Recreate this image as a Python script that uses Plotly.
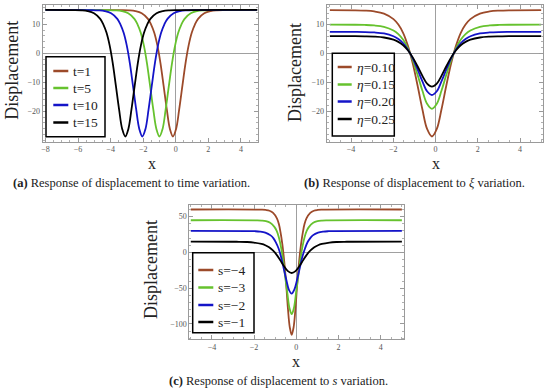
import plotly.graph_objects as go

# ---------------- data ----------------
# panel (a): displacement vs x for several times t
t_labels = ["t=1", "t=5", "t=10", "t=15"]
x_t1 = [-8, -3.25, -2.86, -2.48, -2.09, -1.71, -1.52, -1.32, -1.13, -0.94, -0.75, -0.55, -0.36, -0.17,
        0.02, 0.21, 0.41, 0.60, 0.79, 0.98, 1.18, 1.37, 1.75, 2.14, 2.52, 2.91, 5]
x_t5 = [-8, -4.08, -3.69, -3.31, -2.92, -2.54, -2.35, -2.15, -1.96, -1.77, -1.58, -1.38, -1.19, -1.00,
        -0.81, -0.62, -0.42, -0.23, -0.04, 0.15, 0.35, 0.54, 0.92, 1.31, 1.69, 2.08, 5]
x_t10 = [-8, -5.13, -4.74, -4.36, -3.97, -3.59, -3.40, -3.20, -3.01, -2.82, -2.63, -2.43, -2.24, -2.05,
         -1.86, -1.67, -1.47, -1.28, -1.09, -0.90, -0.70, -0.51, -0.13, 0.26, 0.64, 1.03, 5]
x_t15 = [-8, -6.18, -5.79, -5.41, -5.02, -4.64, -4.45, -4.25, -4.06, -3.87, -3.68, -3.48, -3.29, -3.10,
         -2.91, -2.72, -2.52, -2.33, -2.14, -1.95, -1.75, -1.56, -1.18, -0.79, -0.41, -0.02, 5]
y_t = [15, 14.94, 14.84, 14.57, 13.84, 11.91, 10.03, 7.10, 2.75, -3.35, -11.07, -19.37, -26.08, -28.70,
       -26.08, -19.37, -11.07, -3.35, 2.75, 7.10, 10.03, 11.91, 13.84, 14.57, 14.84, 14.94, 15]

# panel (b): displacement vs x for several eta
eta_labels = ["<i>η</i>=0.10", "<i>η</i>=0.15", "<i>η</i>=0.20", "<i>η</i>=0.25"]
x_eta = [-5, -3.81, -3.35, -2.90, -2.44, -1.99, -1.76, -1.53, -1.31, -1.08, -0.85, -0.62, -0.40, -0.17,
         0.06, 0.28, 0.51, 0.74, 0.97, 1.19, 1.42, 1.65, 2.10, 2.56, 3.01, 3.47, 5]
y_eta010 = [15, 14.94, 14.84, 14.57, 13.83, 11.91, 10.02, 7.08, 2.72, -3.39, -11.13, -19.44, -26.18, -28.80,
            -26.18, -19.44, -11.13, -3.39, 2.72, 7.08, 10.02, 11.91, 13.83, 14.57, 14.84, 14.94, 15]
y_eta015 = [10, 9.96, 9.89, 9.71, 9.22, 7.94, 6.68, 4.72, 1.81, -2.26, -7.42, -12.96, -17.45, -19.20,
            -17.45, -12.96, -7.42, -2.26, 1.81, 4.72, 6.68, 7.94, 9.22, 9.71, 9.89, 9.96, 10]
y_eta020 = [7.5, 7.47, 7.42, 7.28, 6.92, 5.96, 5.01, 3.54, 1.36, -1.70, -5.57, -9.72, -13.09, -14.40,
            -13.09, -9.72, -5.57, -1.70, 1.36, 3.54, 5.01, 5.96, 6.92, 7.28, 7.42, 7.47, 7.5]
y_eta025 = [6, 5.98, 5.93, 5.83, 5.53, 4.76, 4.01, 2.83, 1.09, -1.36, -4.45, -7.78, -10.47, -11.52,
            -10.47, -7.78, -4.45, -1.36, 1.09, 2.83, 4.01, 4.76, 5.53, 5.83, 5.93, 5.98, 6]

# panel (c): displacement vs x for several s
s_labels = ["s=−4", "s=−3", "s=−2", "s=−1"]
x_s4 = [-5, -1.62, -1.45, -1.27, -1.10, -0.92, -0.83, -0.75, -0.66, -0.57, -0.48, -0.40, -0.31, -0.22,
        -0.13, -0.04, 0.04, 0.13, 0.22, 0.31, 0.39, 0.48, 0.66, 0.83, 1.01, 1.18, 5]
y_s4 = [60, 59.76, 59.34, 58.26, 55.32, 47.64, 40.08, 28.32, 10.86, -13.56, -44.52, -77.76, -104.70, -115.20,
        -104.70, -77.76, -44.52, -13.56, 10.86, 28.32, 40.08, 47.64, 55.32, 58.26, 59.34, 59.76, 60]
x_s3 = [-5, -1.85, -1.65, -1.44, -1.24, -1.04, -0.93, -0.83, -0.73, -0.63, -0.53, -0.42, -0.32, -0.22,
        -0.12, -0.02, 0.09, 0.19, 0.29, 0.39, 0.49, 0.60, 0.80, 1.00, 1.21, 1.41, 5]
y_s3 = [45, 44.82, 44.51, 43.70, 41.49, 35.73, 30.06, 21.24, 8.15, -10.17, -33.39, -58.32, -78.53, -86.40,
        -78.53, -58.32, -33.39, -10.17, 8.15, 21.24, 30.06, 35.73, 41.49, 43.70, 44.51, 44.82, 45]
x_s2 = [-5, -2.22, -1.97, -1.72, -1.47, -1.22, -1.09, -0.97, -0.84, -0.72, -0.60, -0.47, -0.35, -0.22,
        -0.10, 0.03, 0.16, 0.28, 0.41, 0.53, 0.66, 0.78, 1.03, 1.28, 1.53, 1.78, 5]
y_s2 = [30, 29.88, 29.67, 29.13, 27.66, 23.82, 20.04, 14.16, 5.43, -6.78, -22.26, -38.88, -52.35, -57.60,
        -52.35, -38.88, -22.26, -6.78, 5.43, 14.16, 20.04, 23.82, 27.66, 29.13, 29.67, 29.88, 30]
x_s1 = [-5, -3.08, -2.72, -2.36, -2.01, -1.65, -1.47, -1.29, -1.11, -0.93, -0.76, -0.58, -0.40, -0.22,
        -0.04, 0.14, 0.32, 0.49, 0.67, 0.85, 1.03, 1.21, 1.57, 1.92, 2.28, 2.64, 5]
y_s1 = [15, 14.94, 14.84, 14.57, 13.83, 11.91, 10.02, 7.08, 2.72, -3.39, -11.13, -19.44, -26.18, -28.80,
        -26.18, -19.44, -11.13, -3.39, 2.72, 7.08, 10.02, 11.91, 13.83, 14.57, 14.84, 14.94, 15]

colors = ["#9C4A2A", "#66C22E", "#1414C8", "#000000"]
SERIF = "Liberation Serif"
W, H = 550, 389

fig = go.Figure()

def add(xs, ys, name, color, xa, ya):
    fig.add_trace(go.Scatter(x=xs, y=ys, name=name, mode="lines", showlegend=False,
                             line=dict(color=color, width=1.8, shape="spline", smoothing=1),
                             xaxis=xa, yaxis=ya))

for xs, lab, col in zip([x_t1, x_t5, x_t10, x_t15], t_labels, colors):
    add(xs, y_t, lab, col, "x", "y")
for ys, lab, col in zip([y_eta010, y_eta015, y_eta020, y_eta025], eta_labels, colors):
    add(x_eta, ys, lab, col, "x2", "y2")
for xs, ys, lab, col in zip([x_s4, x_s3, x_s2, x_s1], [y_s4, y_s3, y_s2, y_s1], s_labels, colors):
    add(xs, ys, lab, col, "x3", "y3")

def ax(domain, rng, tickvals, minor_dtick, anchor):
    return dict(domain=domain, range=rng, anchor=anchor, tickvals=tickvals,
                showline=True, linecolor="#9a9a9a", linewidth=1, mirror="ticks",
                ticks="inside", ticklen=4, tickwidth=0.8, tickcolor="#9a9a9a",
                minor=dict(ticks="inside", ticklen=2, tickcolor="#b0b0b0", dtick=minor_dtick, showgrid=False),
                showgrid=False, zeroline=True, zerolinecolor="#a0a0a0", zerolinewidth=1,
                tickfont=dict(family=SERIF, size=8, color="#555555"))

xd_a = [42.7 / W, 257.7 / W]
xd_b = [326.7 / W, 543.3 / W]
xd_c = [189.3 / W, 404.0 / W]
yd_top = [1 - 141.7 / H, 1 - 5.0 / H]
yd_bot = [1 - 339.3 / H, 1 - 205.0 / H]

fig.update_layout(
    width=W, height=H, margin=dict(l=0, r=0, t=0, b=0),
    paper_bgcolor="white", plot_bgcolor="white", showlegend=False,
    xaxis=ax(xd_a, [-8.17, 5.03], [-8, -6, -4, -2, 0, 2, 4], 0.5, "y"),
    yaxis=ax(yd_top, [-30.5, 16.7], [-20, -10, 0, 10], 2, "x"),
    xaxis2=ax(xd_b, [-5.15, 5.1], [-4, -2, 0, 2, 4], 0.5, "y2"),
    yaxis2=ax(yd_top, [-30.6, 16.8], [-20, -10, 0, 10], 2, "x2"),
    xaxis3=ax(xd_c, [-5.07, 5.1], [-4, -2, 0, 2, 4], 0.5, "y3"),
    yaxis3=ax(yd_bot, [-121.5, 66.3], [-100, -50, 0, 50], 10, "x3"),
)

def label(text, px, py, size, angle=0, color="#222222", xanchor="center"):
    fig.add_annotation(text=text, x=px / W, y=1 - py / H, xref="paper", yref="paper",
                       showarrow=False, textangle=angle, xanchor=xanchor, yanchor="middle",
                       font=dict(family=SERIF, size=size, color=color))

# legends (boxed keys, as in the reference)
def legend_box(box, sample_x, text_x, rows, labels):
    x0, x1, y0, y1 = box
    fig.add_shape(type="rect", xref="paper", yref="paper", layer="above",
                  x0=x0 / W, x1=x1 / W, y0=1 - y1 / H, y1=1 - y0 / H,
                  line=dict(color="black", width=1.5), fillcolor="white")
    for ry, lab, col in zip(rows, labels, colors):
        fig.add_shape(type="line", xref="paper", yref="paper", layer="above",
                      x0=sample_x[0] / W, x1=sample_x[1] / W, y0=1 - ry / H, y1=1 - ry / H,
                      line=dict(color=col, width=2.5))
        label(lab, text_x, ry, 13.5, xanchor="left")

legend_box((46, 105, 56.7, 136.7), (53.3, 68.3), 70.5, [71, 88, 105, 122.5], t_labels)
legend_box((332.3, 394.3, 53.3, 136), (337.7, 351.7), 354.5, [67, 84.5, 101.5, 119], eta_labels)
legend_box((192.7, 254, 252.7, 332.7), (198.3, 213.3), 216.3, [270, 287.5, 305, 322], s_labels)

# axis titles
label("Displacement", 11.7, 70, 18, -90)
label("Displacement", 295, 73, 18, -90)
label("Displacement", 151, 270, 18, -90)
label("x", 151.7, 164, 16)
label("x", 436, 164, 16)
label("x", 295.7, 361.5, 16)

# captions
label("<b>(a)</b> Response of displacement to time variation.", 131.5, 182.7, 12.5)
label("<b>(b)</b> Response of displacement to <i>ξ</i> variation.", 414, 182.7, 12.5)
label("<b>(c)</b> Response of displacement to <i>s</i> variation.", 278.5, 381, 12.5)

fig.write_html("out.html", config={"displayModeBar": False},
               post_script="document.body.style.margin='0';document.body.style.overflow='hidden';")
